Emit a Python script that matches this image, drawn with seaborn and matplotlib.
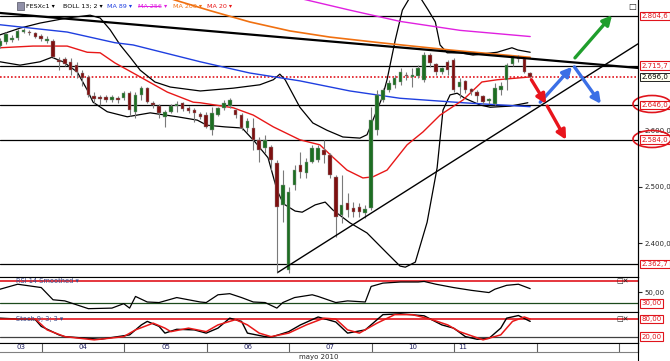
import numpy as np
import matplotlib.pyplot as plt
from matplotlib.patches import Ellipse
from matplotlib.transforms import blended_transform_factory
import pandas as pd
import seaborn as sns

sns.set_style("white")
plt.rcParams['font.family'] = ['DejaVu Sans']

# hourly candles of FESXc1, 14 per session, index = candle number
opens = [2751, 2758, 2762, 2765, 2776, 2776, 2774, 2769, 2760, 2760,
         2726, 2728, 2723, 2717, 2703, 2696, 2662, 2660, 2660, 2655,
         2658, 2658, 2667, 2634, 2664, 2676, 2650, 2644, 2625, 2634,
         2644, 2650, 2641, 2637, 2630, 2628, 2601, 2628, 2641, 2644,
         2637, 2628, 2605, 2605, 2584, 2569, 2571, 2543, 2468, 2352,
         2503, 2539, 2525, 2544, 2548, 2566, 2557, 2518, 2450, 2471,
         2462, 2464, 2454, 2462, 2601, 2655, 2673, 2682, 2687, 2699,
         2696, 2698, 2691, 2735, 2719, 2705, 2723, 2726, 2678, 2689,
         2675, 2669, 2662, 2653, 2648, 2673, 2691, 2719, 2730, 2728,
         2703]
highs = [2765, 2776, 2771, 2781, 2783, 2780, 2776, 2773, 2769, 2764,
         2732, 2732, 2730, 2723, 2708, 2699, 2669, 2664, 2664, 2664,
         2662, 2671, 2671, 2669, 2680, 2678, 2653, 2648, 2637, 2648,
         2653, 2651, 2644, 2641, 2634, 2634, 2642, 2642, 2655, 2658,
         2641, 2632, 2623, 2623, 2589, 2593, 2575, 2548, 2530, 2500,
         2539, 2562, 2552, 2575, 2575, 2584, 2560, 2521, 2521, 2489,
         2473, 2471, 2468, 2642, 2673, 2676, 2691, 2699, 2712, 2705,
         2712, 2717, 2740, 2739, 2721, 2714, 2726, 2730, 2694, 2691,
         2676, 2673, 2664, 2658, 2685, 2687, 2721, 2735, 2735, 2730,
         2705]
lows = [2748, 2755, 2758, 2762, 2774, 2771, 2765, 2760, 2756, 2730,
        2708, 2715, 2699, 2694, 2680, 2660, 2648, 2646, 2651, 2651,
        2650, 2655, 2626, 2623, 2655, 2650, 2641, 2623, 2607, 2632,
        2634, 2635, 2632, 2616, 2621, 2605, 2593, 2626, 2637, 2641,
        2623, 2601, 2598, 2566, 2544, 2560, 2530, 2347, 2437, 2347,
        2495, 2516, 2516, 2543, 2544, 2543, 2516, 2411, 2436, 2446,
        2446, 2446, 2445, 2459, 2593, 2651, 2669, 2676, 2682, 2691,
        2678, 2694, 2687, 2714, 2699, 2701, 2699, 2669, 2658, 2667,
        2664, 2651, 2648, 2648, 2646, 2664, 2673, 2715, 2723, 2703,
        2694]
closes = [2760, 2773, 2765, 2778, 2780, 2774, 2767, 2764, 2764, 2732,
          2723, 2719, 2708, 2705, 2694, 2664, 2657, 2657, 2655, 2660,
          2655, 2667, 2637, 2664, 2676, 2651, 2646, 2632, 2634, 2644,
          2648, 2639, 2635, 2632, 2625, 2607, 2632, 2641, 2650, 2655,
          2628, 2605, 2618, 2584, 2566, 2584, 2548, 2464, 2503, 2491,
          2530, 2527, 2544, 2569, 2569, 2557, 2521, 2446, 2468, 2459,
          2455, 2455, 2461, 2619, 2664, 2673, 2685, 2694, 2705, 2698,
          2699, 2712, 2735, 2721, 2705, 2712, 2708, 2673, 2687, 2673,
          2669, 2662, 2651, 2657, 2676, 2680, 2717, 2732, 2728, 2705,
          2696]

# indicator lines (candle index, price)
bb_up_k = [0, 3.4, 6.8, 11.4, 15.3, 17, 18.7, 20.4, 22.1, 23.8, 26.3, 28.9, 34, 39.6,
           44.1, 46.4, 47.5, 48.4, 50.9, 53.1, 55.5, 58.2, 61.1, 62.3, 63.3, 64.9,
           65.7, 67.1, 68.3, 69.6, 71.3, 72.7, 73.9, 74.7, 75.9, 78.1, 80.3, 84.4,
           86.9, 87.9, 90]
bb_up_p = [2771, 2783, 2792, 2801, 2806, 2801, 2780, 2753, 2731, 2708, 2687, 2678, 2671,
           2676, 2682, 2691, 2701, 2691, 2642, 2614, 2601, 2589, 2587, 2593, 2619,
           2660, 2691, 2762, 2815, 2838, 2838, 2815, 2794, 2753, 2739, 2739, 2735,
           2740, 2748, 2744, 2740]
bb_lo_k = [0, 3.4, 6.8, 8.8, 10.7, 13.1, 14.8, 15.8, 18.2, 21.6, 25.5, 30.1, 33.5,
           35.1, 38.2, 41.1, 43.3, 45.5, 47.0, 48.1, 50.1, 51.3, 53.5, 55.2, 56.5,
           59.4, 62.3, 65.7, 67.9, 68.8, 70.5, 72.5, 74.2, 75.2, 76.4, 77.6, 78.9,
           81.5, 83.2, 86.6, 89.6]
bb_lo_p = [2723, 2717, 2723, 2731, 2723, 2705, 2673, 2651, 2634, 2625, 2632, 2625,
           2619, 2610, 2607, 2605, 2580, 2552, 2495, 2470, 2457, 2455, 2468, 2473,
           2459, 2436, 2418, 2382, 2359, 2357, 2366, 2437, 2534, 2637, 2664, 2667,
           2658, 2646, 2642, 2644, 2650]
ma20_k = [0, 5.6, 11.4, 14.8, 17, 19.5, 22.6, 27.2, 28.4, 32.8, 34, 39.6, 43, 46.4,
          50.9, 54.3, 56.5, 58.9, 61.6, 63.3, 65.7, 69.1, 71.8, 74.7, 78.6, 81.8,
          84.4, 90]
ma20_p = [2748, 2751, 2751, 2740, 2739, 2721, 2703, 2676, 2669, 2651, 2650, 2641,
          2628, 2607, 2584, 2575, 2553, 2530, 2516, 2518, 2530, 2575, 2598, 2628,
          2655, 2687, 2691, 2696]
ma89_k = [0, 11.4, 19.5, 22.6, 34, 42.4, 50.9, 59.4, 67.9, 78.6, 90]
ma89_p = [2789, 2776, 2757, 2753, 2723, 2703, 2689, 2671, 2658, 2650, 2643]
ma200_k = [27.2, 29.7, 35.7, 42.4, 49.2, 56, 64.5, 76.4, 90]
ma200_p = [2842, 2833, 2814, 2794, 2778, 2767, 2757, 2744, 2731]
ma256_k = [50.9, 59.4, 67.9, 78.1, 90]
ma256_p = [2836, 2815, 2795, 2779, 2768]

rsi_k = [0, 3, 7, 9, 11, 15, 19, 21, 22, 23, 25, 27, 30, 34, 35, 37, 39, 41, 43, 45,
         47, 48, 50, 53, 54, 57, 59, 62, 63, 65, 68, 71, 72, 74, 77, 80, 83, 84, 86,
         88, 90]
rsi_v = [55, 64, 58, 36, 34, 20, 21, 29, 21, 42, 32, 31, 40, 32, 31, 45, 47, 40, 32,
         31, 21, 31, 40, 45, 42, 31, 34, 32, 60, 66, 68, 68, 69, 64, 58, 53, 49, 55,
         62, 64, 56]
stk_k = [0, 3, 6, 7, 10, 11, 15, 17, 20, 22, 24, 25, 27, 28, 30, 33, 35, 37, 39, 41,
         42, 45, 46, 49, 51, 54, 57, 59, 62, 65, 68, 72, 75, 77, 79, 81, 83, 85, 86,
         88, 90]
stk_v = [83, 80, 78, 55, 26, 20, 14, 11, 20, 26, 60, 72, 55, 32, 45, 43, 32, 49, 83,
         72, 32, 20, 18, 37, 60, 87, 70, 32, 43, 95, 98, 91, 60, 49, 20, 11, 14, 49,
         83, 92, 72]
std_k = [0, 6, 8, 11, 16, 21, 23, 26, 28, 29, 32, 35, 37, 40, 42, 44, 46, 49, 52, 55,
         57, 59, 61, 64, 67, 70, 73, 76, 78, 82, 85, 87, 89, 90]
std_v = [80, 80, 43, 20, 9, 20, 43, 66, 49, 37, 49, 37, 60, 78, 60, 32, 20, 32, 60,
         83, 80, 43, 32, 66, 95, 95, 80, 60, 37, 9, 26, 72, 87, 80]

days = ["03", "04", "05", "06", "07", "10", "11"]
levels_boxed = [2804.6, 2715.7, 2646.0, 2584.0, 2362.7]
last_price = 2696.0
axis_ticks = [2400, 2500, 2600]

# trend lines and arrows (candle index, price)
trend_down = [(0, 2810), (108.3, 2712)]
trend_up = [(47.2, 2348), (108.3, 2755)]
arrows = [((97.6, 2730), (103.9, 2806), "#1f9e2c"),
          ((91.7, 2651), (97.1, 2714), "#3b6fe6"),
          ((97.5, 2714), (102.0, 2648), "#3b6fe6"),
          ((90.2, 2691), (92.7, 2648), "#e8141c"),
          ((92.9, 2644), (96.1, 2584), "#e8141c")]


def euro(v, nd=1):
    s = f"{v:,.{nd}f}"
    return s.replace(",", "X").replace(".", ",").replace("X", ".")


df = pd.DataFrame({"o": opens, "h": highs, "l": lows, "c": closes})
df["k"] = np.arange(len(df))
up = df["c"] >= df["o"]

W, H = 670, 361
fig = plt.figure(figsize=(W / 100, H / 100), dpi=100)
xr = 638 / W
ax = fig.add_axes([0, 1 - 277 / H, xr, 277 / H])
ax_rsi = fig.add_axes([0, 1 - 312 / H, xr, 35 / H])
ax_st = fig.add_axes([0, 1 - 342.5 / H, xr, 30.5 / H])
ax_d = fig.add_axes([0, 1 - 352 / H, xr, 9.5 / H])
XL = (0, 108.3)

# main chart
ax.set_xlim(*XL)
ax.set_ylim(2339.5, 2833.1)
ax.vlines(df["k"], df["l"], df["h"], color="#7a7a7a", lw=0.8, zorder=3)
body = (df["c"] - df["o"]).abs().clip(lower=1.2)
ax.bar(df["k"], body, bottom=df[["o", "c"]].min(axis=1), width=0.6,
       color=np.where(up, "#1d6e22", "#7d1010"), edgecolor="#9a9a9a", lw=0.3, zorder=4)

for lv in levels_boxed:
    ax.axhline(lv, color="black", lw=0.9, zorder=2)
ax.axhline(last_price, color="#e0141c", lw=1.2, ls=(0, (1, 1.2)), zorder=2)

sns.lineplot(x=bb_up_k, y=bb_up_p, ax=ax, color="black", lw=0.9, estimator=None, sort=False)
sns.lineplot(x=bb_lo_k, y=bb_lo_p, ax=ax, color="black", lw=0.9, estimator=None, sort=False)
sns.lineplot(x=ma89_k, y=ma89_p, ax=ax, color="#1f3fe0", lw=1.0, estimator=None)
sns.lineplot(x=ma256_k, y=ma256_p, ax=ax, color="#e020e0", lw=1.0, estimator=None)
sns.lineplot(x=ma200_k, y=ma200_p, ax=ax, color="#f07010", lw=1.2, estimator=None)
sns.lineplot(x=ma20_k, y=ma20_p, ax=ax, color="#e81818", lw=1.0, estimator=None)

for (x0, y0), (x1, y1) in [trend_down, trend_up]:
    lw = 1.6 if y1 < y0 else 1.0
    ax.plot([x0, x1], [y0, y1], color="black", lw=lw, zorder=5)

for (x0, y0), (x1, y1), col in arrows:
    ax.annotate("", xy=(x1, y1), xytext=(x0, y0), zorder=6,
                arrowprops=dict(arrowstyle="-|>,head_width=0.28,head_length=0.55",
                                color=col, lw=2.4, shrinkA=0, shrinkB=0))

for a in (ax, ax_rsi, ax_st, ax_d):
    for s in ("top", "left"):
        a.spines[s].set_visible(False)
    a.spines["right"].set_color("black")
    a.spines["bottom"].set_color("black")
    a.spines["right"].set_linewidth(0.8)
    a.spines["bottom"].set_linewidth(0.8)
    a.set_xticks([])
    a.set_xlabel("")
    a.set_ylabel("")

ax.yaxis.tick_right()
ax.set_yticks(axis_ticks)
ax.set_yticklabels([euro(t) for t in axis_ticks])
ax.tick_params(axis="y", labelsize=5, length=3, pad=1.5, direction="out", right=True)

tr = blended_transform_factory(ax.transAxes, ax.transData)
for lv in levels_boxed:
    ax.text(1.006, lv, euro(lv), transform=tr, fontsize=5, color="#e0141c", va="center",
            ha="left", zorder=10, clip_on=False,
            bbox=dict(boxstyle="square,pad=0.2", fc="white", ec="#e0141c", lw=0.8))
ax.text(1.006, last_price, euro(last_price), transform=tr, fontsize=5, color="black",
        va="center", ha="left", zorder=10, clip_on=False,
        bbox=dict(boxstyle="square,pad=0.2", fc="#fffff0", ec="black", lw=0.6))

for yc in (104, 139):
    fig.add_artist(Ellipse((652 / W, 1 - yc / H), 38 / W, 17 / H, transform=fig.transFigure,
                           fill=False, ec="#e0141c", lw=1.2))

# indicator legend
legend = [("FESXc1 \u25be", "black", 26), ("BOLL 13; 2 \u25be", "black", 63),
          ("MA 89 \u25be", "#1f3fe0", 107), ("MA 256 \u25be", "#e020e0", 138),
          ("MA 200 \u25be", "#f07010", 173), ("MA 20 \u25be", "#e81818", 207)]
for txt, col, px in legend:
    fig.text(px / W, 1 - 6 / H, txt, fontsize=4.6, color=col, va="center", ha="left")
fig.add_artist(plt.Line2D([138 / W, 160 / W], [1 - 6 / H] * 2, color="#e020e0", lw=0.7))
fig.add_artist(plt.Rectangle((17 / W, 1 - 9.5 / H), 7 / W, 7 / H, fc="#9090a8", ec="#505060",
                             lw=0.5, transform=fig.transFigure))
fig.text(632 / W, 1 - 6 / H, "\u25a1", fontsize=6, ha="center", va="center")

# RSI panel
ax_rsi.set_xlim(*XL)
ax_rsi.set_ylim(14, 77)
ax_rsi.axhline(70, color="#e0141c", lw=1.2)
ax_rsi.axhline(30, color="#1c4a1c", lw=0.9)
sns.lineplot(x=rsi_k, y=rsi_v, ax=ax_rsi, color="black", lw=0.9, estimator=None)
ax_rsi.spines["top"].set_visible(True)
ax_rsi.spines["top"].set_color("black")
ax_rsi.yaxis.tick_right()
ax_rsi.set_yticks([50])
ax_rsi.set_yticklabels(["50,00"])
ax_rsi.tick_params(axis="y", labelsize=5, length=3, pad=1.5, right=True)
ax_rsi.text(0.025, 70, "RSI 14 Smoothed \u25be", transform=blended_transform_factory(
    ax_rsi.transAxes, ax_rsi.transData), fontsize=4.8, color="#3a4a8a", va="center")
ax_rsi.text(1.006, 30, "30,00", transform=blended_transform_factory(ax_rsi.transAxes,
            ax_rsi.transData), fontsize=5, color="#e0141c", va="center", clip_on=False,
            bbox=dict(boxstyle="square,pad=0.2", fc="white", ec="#e0141c", lw=0.8))
ax_rsi.text(0.985, 70, "\u25a1\u2715", transform=blended_transform_factory(
    ax_rsi.transAxes, ax_rsi.transData), fontsize=5, ha="right", va="center")

# stochastic panel
ax_st.set_xlim(*XL)
ax_st.set_ylim(0, 104)
ax_st.axhline(80, color="#e0141c", lw=1.2)
ax_st.axhline(20, color="#404040", lw=0.9)
sns.lineplot(x=stk_k, y=stk_v, ax=ax_st, color="black", lw=1.0, estimator=None)
sns.lineplot(x=std_k, y=std_v, ax=ax_st, color="#e81818", lw=1.1, estimator=None)
ax_st.spines["top"].set_visible(True)
ax_st.spines["top"].set_color("black")
ax_st.set_yticks([])
tst = blended_transform_factory(ax_st.transAxes, ax_st.transData)
ax_st.text(0.025, 80, "Stoch 9; 3; 3 \u25be", transform=tst, fontsize=4.8, color="#3a4a8a",
           va="center")
for lv in (80, 20):
    ax_st.text(1.006, lv, euro(lv, 2), transform=tst, fontsize=5, color="#e0141c",
               va="center", clip_on=False,
               bbox=dict(boxstyle="square,pad=0.2", fc="white", ec="#e0141c", lw=0.8))
ax_st.text(0.985, 80, "\u25a1\u2715", transform=tst, fontsize=5, ha="right", va="center")

# date strip
ax_d.set_xlim(*XL)
ax_d.set_ylim(0, 1)
ax_d.set_yticks([])
ax_d.spines["top"].set_visible(True)
ax_d.spines["top"].set_color("black")
ax_d.spines["bottom"].set_color("#808080")
for j in range(8):
    ax_d.axvline(7.1 + 14 * j, color="#606060", lw=0.8)
for j, d in enumerate(days):
    xc = 7.1 + 14 * (j - 1) + 7 if j > 0 else 3.5
    if d == "11":
        xc = 7.1 + 14 * (j - 1) + 1.5
    ax_d.text(xc, 0.5, d, fontsize=5, ha="center", va="center", color="#202060")
fig.text(319 / W, 1 - 357 / H, "mayo 2010", fontsize=5, ha="center", va="center")
fig.add_artist(plt.Line2D([xr, xr], [0, 1], color="black", lw=0.8))

fig.savefig("out.png", dpi=100)
